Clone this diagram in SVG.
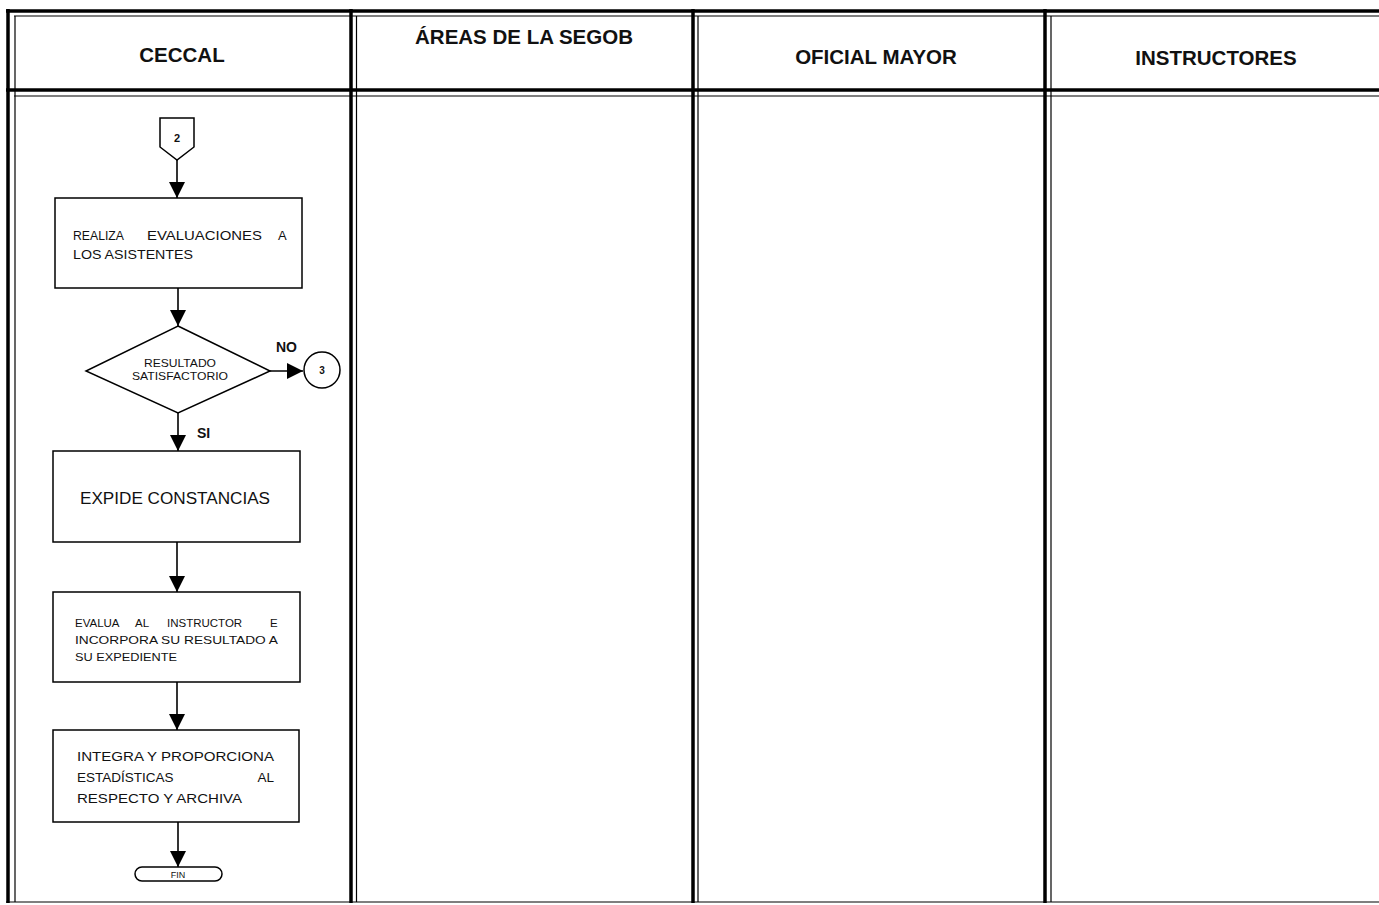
<svg xmlns="http://www.w3.org/2000/svg" width="1379" height="905" viewBox="0 0 1379 905">
<style>
.thick{stroke:#000;stroke-width:3.5;fill:none}
.thin{stroke:#000;stroke-width:1.2;fill:none}
.box{fill:#fff;stroke:#000;stroke-width:1.5}
.hdr{font-family:"Liberation Sans",Arial,sans-serif;font-weight:bold;font-size:20.5px;text-anchor:middle;fill:#111}
.t{font-family:"Liberation Sans",Arial,sans-serif;fill:#111}
.lbl{font-family:"Liberation Sans",Arial,sans-serif;font-weight:bold;font-size:14px;fill:#111}
.edge{stroke:#000;stroke-width:1.6;fill:none;marker-end:url(#ahb)}
</style>
<defs>
<marker id="ahb" viewBox="0 0 16 16" refX="16" refY="8" markerWidth="16" markerHeight="16" markerUnits="userSpaceOnUse" orient="auto">
<path d="M0,0 L16,8 L0,16 Z" fill="#000"/>
</marker>
</defs>
<rect width="1379" height="905" fill="#fff"/>
<g id="lanes">
<line class="thick" x1="6" y1="11" x2="1379" y2="11"/>
<line class="thin" x1="14" y1="16" x2="1379" y2="16"/>
<line class="thick" x1="6" y1="90" x2="1379" y2="90"/>
<line class="thin" x1="14" y1="96" x2="1379" y2="96"/>
<line class="thin" x1="6" y1="902" x2="1379" y2="902" stroke-width="1.8"/>
<line class="thick" x1="8" y1="9" x2="8" y2="903"/>
<line class="thin" x1="15" y1="16" x2="15" y2="902"/>
<line class="thick" x1="351" y1="9" x2="351" y2="903"/>
<line class="thin" x1="356.5" y1="16" x2="356.5" y2="902"/>
<line class="thick" x1="693" y1="9" x2="693" y2="903"/>
<line class="thin" x1="698" y1="16" x2="698" y2="902"/>
<line class="thick" x1="1045" y1="9" x2="1045" y2="903"/>
<line class="thin" x1="1051" y1="16" x2="1051" y2="902"/>
<text class="hdr" x="182" y="62">CECCAL</text>
<text class="hdr" x="524" y="44">ÁREAS DE LA SEGOB</text>
<text class="hdr" x="876" y="64">OFICIAL MAYOR</text>
<text class="hdr" x="1216" y="65">INSTRUCTORES</text>
</g>
<g id="connectors">
<line class="edge" x1="177" y1="160" x2="177" y2="198"/>
<line class="edge" x1="178" y1="288" x2="178" y2="326"/>
<line class="edge" x1="270" y1="371" x2="303" y2="371"/>
<line class="edge" x1="178" y1="412" x2="178" y2="451"/>
<line class="edge" x1="177" y1="542" x2="177" y2="592"/>
<line class="edge" x1="177" y1="682" x2="177" y2="730"/>
<line class="edge" x1="178" y1="822" x2="178" y2="867"/>
<text class="lbl" x="276" y="352">NO</text>
<text class="lbl" x="197" y="438">SI</text>
</g>
<g id="offpage2">
<path class="box" d="M160,118 L194,118 L194,147 L177,160 L160,147 Z"/>
<text class="t" x="177" y="142" font-size="11" font-weight="bold" text-anchor="middle">2</text>
</g>
<g id="n1">
<rect class="box" x="55" y="198" width="247" height="90"/>
<text class="t" font-size="13" y="240" x="73" textLength="51" lengthAdjust="spacingAndGlyphs">REALIZA</text>
<text class="t" font-size="13" y="240" x="147" textLength="115" lengthAdjust="spacingAndGlyphs">EVALUACIONES</text>
<text class="t" font-size="13" y="240" x="278">A</text>
<text class="t" x="73" y="259" font-size="13" textLength="120" lengthAdjust="spacingAndGlyphs">LOS ASISTENTES</text>
</g>
<g id="decision">
<path class="box" d="M178,326 L270,371 L178,413 L86,371 Z"/>
<text class="t" x="180" y="367" font-size="11" text-anchor="middle" textLength="72" lengthAdjust="spacingAndGlyphs">RESULTADO</text>
<text class="t" x="180" y="380" font-size="11" text-anchor="middle" textLength="96" lengthAdjust="spacingAndGlyphs">SATISFACTORIO</text>
</g>
<g id="conn3">
<circle class="box" cx="322" cy="370" r="18"/>
<text class="t" x="322" y="374" font-size="10" font-weight="bold" text-anchor="middle">3</text>
</g>
<g id="n2">
<rect class="box" x="53" y="451" width="247" height="91"/>
<text class="t" x="80" y="504" font-size="16" textLength="190" lengthAdjust="spacingAndGlyphs">EXPIDE CONSTANCIAS</text>
</g>
<g id="n3">
<rect class="box" x="53" y="592" width="247" height="90"/>
<text class="t" font-size="11.5" y="627"><tspan x="75">EVALUA</tspan><tspan x="135">AL</tspan><tspan x="167">INSTRUCTOR</tspan><tspan x="270">E</tspan></text>
<text class="t" x="75" y="644" font-size="11.5" textLength="203" lengthAdjust="spacingAndGlyphs">INCORPORA SU RESULTADO A</text>
<text class="t" x="75" y="661" font-size="11.5" textLength="102" lengthAdjust="spacingAndGlyphs">SU EXPEDIENTE</text>
</g>
<g id="n4">
<rect class="box" x="53" y="730" width="246" height="92"/>
<text class="t" x="77" y="761" font-size="13.5" textLength="197" lengthAdjust="spacingAndGlyphs">INTEGRA Y PROPORCIONA</text>
<text class="t" x="77" y="782" font-size="13.5">ESTADÍSTICAS</text>
<text class="t" x="274" y="782" font-size="13.5" text-anchor="end">AL</text>
<text class="t" x="77" y="803" font-size="13.5" textLength="165" lengthAdjust="spacingAndGlyphs">RESPECTO Y ARCHIVA</text>
</g>
<g id="fin">
<rect class="box" x="135" y="867" width="87" height="14" rx="7" ry="7"/>
<text class="t" x="178" y="878" font-size="9" text-anchor="middle">FIN</text>
</g>
</svg>
